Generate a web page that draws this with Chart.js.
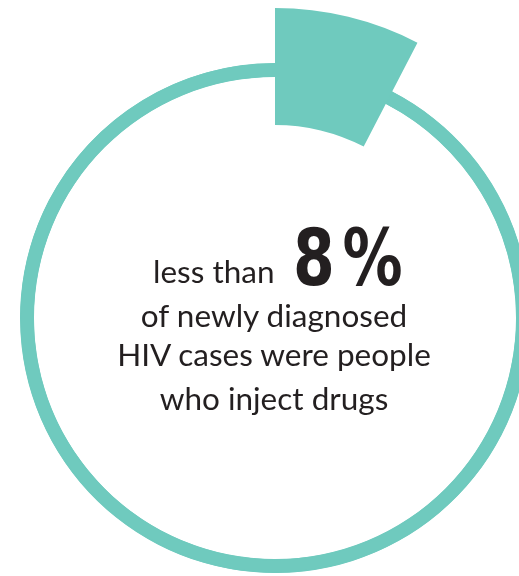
<!DOCTYPE html>
<html lang="en">
<head>
    <meta charset="UTF-8">
    <title>HIV diagnoses - people who inject drugs</title>
    <script src="https://cdn.jsdelivr.net/npm/chart.js"></script>
    <style>
        body {
            margin: 0;
            padding: 0;
            width: 519px;
            height: 576px;
            overflow: hidden;
            background-color: #ffffff;
            font-family: Lato, "Open Sans", sans-serif;
            color: #231f20;
        }
        .stage {
            position: relative;
            width: 519px;
            height: 576px;
        }
        .stage canvas {
            position: absolute;
            left: -45px;
            top: -2px;
        }
        .line {
            position: absolute;
            left: 74px;
            width: 400px;
            text-align: center;
            font-size: 31.5px;
            line-height: 1;
            white-space: nowrap;
        }
        .lead {
            position: absolute;
            left: 153px;
            font-size: 31.5px;
            line-height: 1;
            white-space: nowrap;
        }
        .big {
            position: absolute;
            left: 293px;
            font-family: "DejaVu Sans", sans-serif;
            font-weight: bold;
            font-size: 78px;
            line-height: 1;
            letter-spacing: 10px;
            white-space: nowrap;
            transform: scaleX(0.77);
            transform-origin: 0 0;
        }
    </style>
</head>
<body>
    <div class="stage">
        <canvas id="ring" width="640" height="640"></canvas>
        <canvas id="wedge" width="640" height="640"></canvas>
        <div class="lead" id="lead"></div>
        <div class="big" id="big"></div>
        <div class="line" id="line1"></div>
        <div class="line" id="line2"></div>
        <div class="line" id="line3"></div>
    </div>

    <script>
        // share of new HIV diagnoses
        const categories = ['People who inject drugs', 'Other new diagnoses'];
        const shares = [7.6, 92.4];

        // text in the middle of the ring
        const leadText = 'less than';
        const headline = '8%';
        const captionLines = ['of newly diagnosed', 'HIV cases were people', 'who inject drugs'];

        const teal = '#6fcabe';

        const common = {
            responsive: false,
            animation: false,
            events: [],
            plugins: {
                legend: { display: false },
                tooltip: { enabled: false }
            }
        };

        // thin outline ring, all the way round (255px out, 241px in)
        new Chart(document.getElementById('ring'), {
            type: 'doughnut',
            data: {
                labels: categories,
                datasets: [{
                    data: shares,
                    backgroundColor: [teal, teal],
                    borderColor: teal,
                    borderWidth: 1,
                    borderAlign: 'inner'
                }]
            },
            options: Object.assign({ radius: 255, cutout: (241 / 255 * 100) + '%' }, common)
        });

        // thick wedge for the highlighted share, sticks out past the ring (310px out, 193px in)
        new Chart(document.getElementById('wedge'), {
            type: 'doughnut',
            data: {
                labels: categories,
                datasets: [{
                    data: shares,
                    backgroundColor: [teal, 'rgba(0,0,0,0)'],
                    borderWidth: 0
                }]
            },
            options: Object.assign({ radius: 310, cutout: (193 / 310 * 100) + '%' }, common)
        });

        // text, positioned by baseline
        const lead = document.getElementById('lead');
        lead.textContent = leadText;
        lead.style.top = (284 - 28) + 'px';

        const big = document.getElementById('big');
        big.textContent = headline;
        big.style.top = (285 - 66) + 'px';

        const baselines = [328, 367, 411];
        captionLines.forEach(function (txt, i) {
            const el = document.getElementById('line' + (i + 1));
            el.textContent = txt;
            el.style.top = (baselines[i] - 28) + 'px';
        });
    </script>
</body>
</html>
